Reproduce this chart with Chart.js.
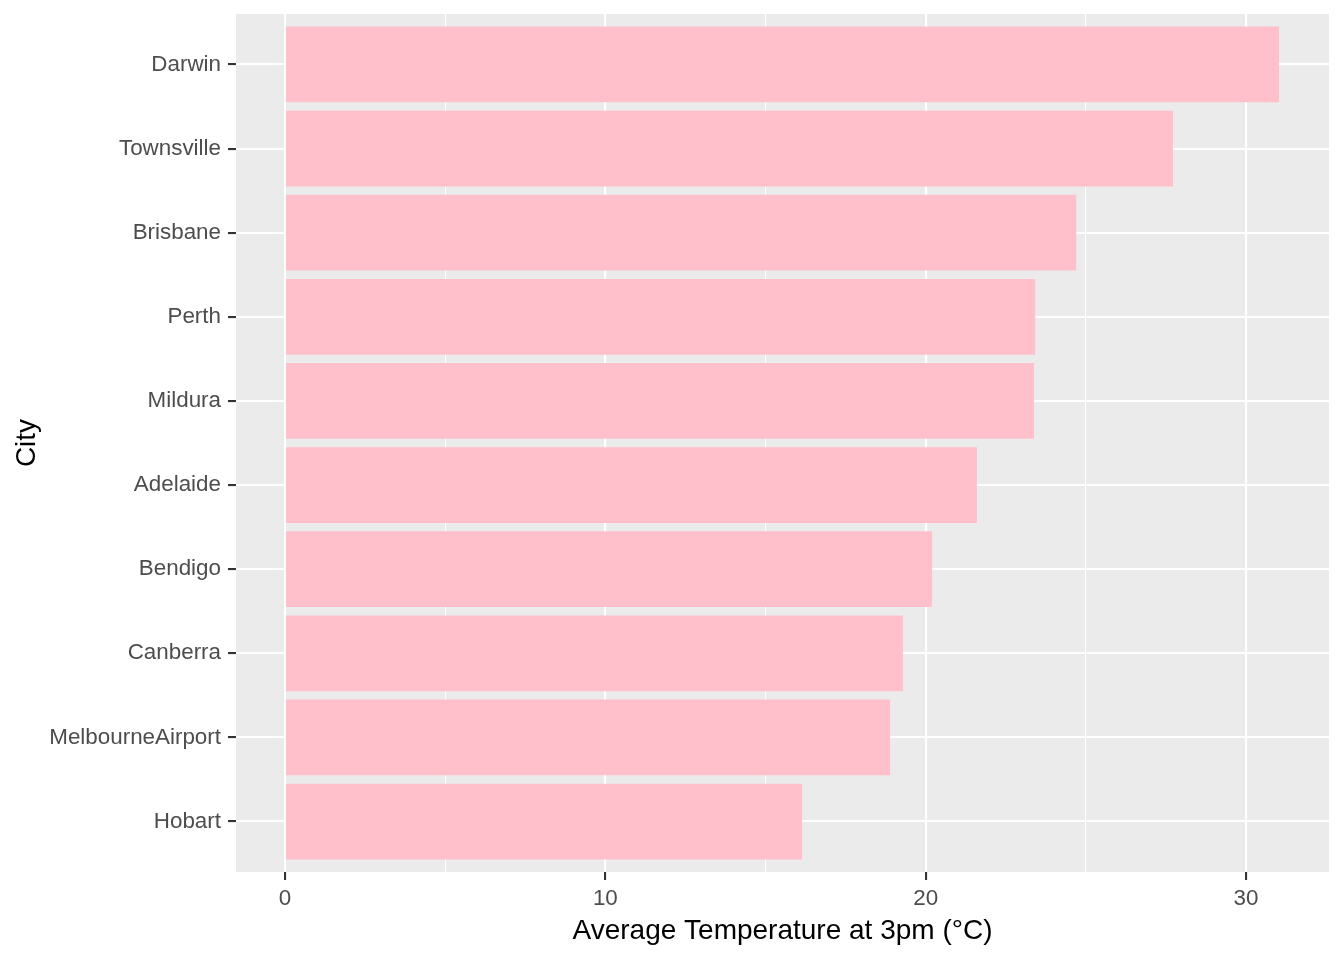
<!DOCTYPE html>
<html>
<head>
<meta charset="utf-8">
<script src="https://cdn.jsdelivr.net/npm/chart.js@4.4.1/dist/chart.umd.min.js"></script>
<style>
html,body{margin:0;padding:0;background:#fff;}
#wrap{width:1344px;height:960px;position:relative;}
</style>
</head>
<body>
<div id="wrap"><canvas id="c" width="1344" height="960"></canvas></div>
<script>
const cities = ['Darwin','Townsville','Brisbane','Perth','Mildura','Adelaide','Bendigo','Canberra','MelbourneAirport','Hobart'];
const temps = [31.03, 27.72, 24.70, 23.42, 23.38, 21.60, 20.20, 19.29, 18.89, 16.14];
const xTicks = [0, 5, 10, 15, 20, 25, 30];
const xLabelled = [0, 10, 20, 30];

const FONT = "'Liberation Sans', Arial, sans-serif";

const panelBg = {
  id: 'panelBg',
  beforeDraw(chart) {
    const {ctx, chartArea: a} = chart;
    ctx.save();
    ctx.fillStyle = '#EBEBEB';
    ctx.fillRect(a.left, a.top, a.right - a.left, a.bottom - a.top);
    ctx.restore();
  }
};

new Chart(document.getElementById('c'), {
  type: 'bar',
  data: {
    datasets: [{
      data: cities.map((c, i) => ({x: temps[i], y: i + 1})),
      backgroundColor: '#FFC0CB',
      borderWidth: 0,
      categoryPercentage: 1,
      barPercentage: 0.9
    }]
  },
  options: {
    indexAxis: 'y',
    responsive: false,
    animation: false,
    devicePixelRatio: 1,
    layout: {padding: {left: 0, top: 14, right: 15, bottom: 0}},
    plugins: {legend: {display: false}, tooltip: {enabled: false}},
    scales: {
      y: {
        type: 'linear',
        reverse: true,
        min: 0.4,
        max: 10.6,
        offset: false,
        afterBuildTicks: s => { s.ticks = cities.map((c, i) => ({value: i + 1})); },
        afterFit: s => { s.width = 236; s.paddingTop = 0; s.paddingBottom = 0; },
        border: {display: false},
        grid: {
          offset: false,
          color: '#FFFFFF',
          lineWidth: 2.1,
          drawTicks: true,
          tickLength: 8,
          tickWidth: 2.1,
          tickColor: '#333333'
        },
        ticks: {
          autoSkip: false,
          callback: v => cities[Math.round(v) - 1],
          color: '#4D4D4D',
          font: {family: FONT, size: 22.4},
          padding: 7
        },
        title: {
          display: true,
          text: 'City',
          color: '#000000',
          font: {family: FONT, size: 28},
          padding: {top: 10, bottom: 0}
        }
      },
      x: {
        type: 'linear',
        min: -1.53,
        max: 32.59,
        offset: false,
        afterBuildTicks: s => { s.ticks = xTicks.map(v => ({value: v})); },
        afterFit: s => { s.height = 88; s.paddingLeft = 0; s.paddingRight = 0; },
        border: {display: false},
        grid: {
          offset: false,
          color: '#FFFFFF',
          lineWidth: ctx => (ctx.tick && xLabelled.includes(ctx.tick.value)) ? 2.1 : 1.05,
          drawTicks: true,
          tickLength: 8,
          tickWidth: 2.1,
          tickColor: ctx => (ctx.tick && xLabelled.includes(ctx.tick.value)) ? '#333333' : 'rgba(0,0,0,0)'
        },
        ticks: {
          autoSkip: false,
          maxRotation: 0,
          callback: v => xLabelled.includes(v) ? String(v) : '',
          color: '#4D4D4D',
          font: {family: FONT, size: 22.4},
          padding: 5
        },
        title: {
          display: true,
          text: 'Average Temperature at 3pm (°C)',
          color: '#000000',
          font: {family: FONT, size: 28},
          padding: {top: 0, bottom: 12}
        }
      }
    }
  },
  plugins: [panelBg]
});
</script>
</body>
</html>
